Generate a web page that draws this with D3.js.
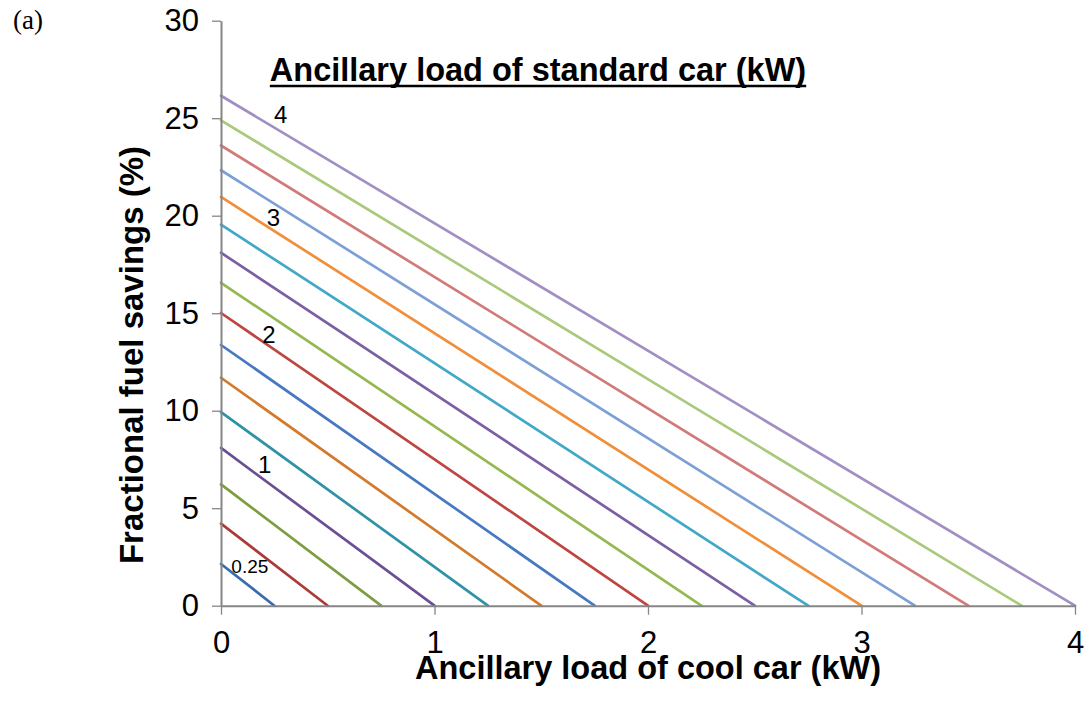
<!DOCTYPE html>
<html>
<head>
<meta charset="utf-8">
<script src="https://cdn.jsdelivr.net/npm/d3@7"></script>
<style>
  html, body { margin: 0; padding: 0; background: #fff; }
  svg { display: block; }
</style>
</head>
<body>
<svg id="chart" width="1087" height="708"></svg>
<script>
// Ancillary load of the standard car (kW), one line per value
const standardLoads = [0.25, 0.5, 0.75, 1, 1.25, 1.5, 1.75, 2, 2.25, 2.5, 2.75, 3, 3.25, 3.5, 3.75, 4];
// Fractional fuel savings (%) when the cool car's ancillary load is 0 kW
const zeroLoadSavings = [2.14, 4.21, 6.22, 8.09, 9.93, 11.69, 13.37, 15.01, 16.56, 18.1, 19.54, 20.96, 22.33, 23.6, 24.89, 26.15];
const lineColors = [
  "#3b6bab", "#aa3b37", "#7e9c40", "#6b4f95", "#2f92a6", "#d47a2d",
  "#4679c2", "#be4642", "#95b850", "#7b5ea3", "#41a9c7", "#f08e3b",
  "#7ca0d5", "#d27a77", "#a9c97c", "#a18fc3"
];
const xTicks = [0, 1, 2, 3, 4];
const yTicks = [0, 5, 10, 15, 20, 25, 30];
// In-plot labels naming the standard-car load of selected lines
const lineLabels = [
  { text: "4",    x: 0.28,  y: 25.2,  small: false },
  { text: "3",    x: 0.245, y: 19.93, small: false },
  { text: "2",    x: 0.225, y: 13.9,  small: false },
  { text: "1",    x: 0.205, y: 7.25,  small: false },
  { text: "0.25", x: 0.135, y: 2.03,  small: true }
];

const svg = d3.select("#chart");
const plotLeft = 221, plotRight = 1075, plotTop = 20.7, plotBottom = 605.7;

const x = d3.scaleLinear().domain([0, 4]).range([plotLeft, plotRight]);
const y = d3.scaleLinear().domain([0, 30]).range([plotBottom, plotTop]);

const axisColor = "#868686";
const sans = "'Liberation Sans', Arial, sans-serif";

// Series lines: from (0, savings at zero load) to (standard load, 0)
const series = standardLoads.map((s, i) => ({
  load: s,
  color: lineColors[i],
  pts: [[0, zeroLoadSavings[i]], [s, 0]]
}));
const line = d3.line().x(d => x(d[0])).y(d => y(d[1]));

svg.append("g")
  .selectAll("path")
  .data(series)
  .join("path")
  .attr("d", d => line(d.pts))
  .attr("fill", "none")
  .attr("stroke", d => d.color)
  .attr("stroke-width", 2.7)
  .attr("stroke-linecap", "round");

// Axes
const xAxis = svg.append("g")
  .attr("transform", `translate(0,${plotBottom})`)
  .call(d3.axisBottom(x).tickValues(xTicks).tickFormat(d3.format("d"))
    .tickSize(9).tickSizeOuter(0).tickPadding(16));
const yAxis = svg.append("g")
  .attr("transform", `translate(${plotLeft},0)`)
  .call(d3.axisLeft(y).tickValues(yTicks).tickFormat(d3.format("d"))
    .tickSize(9).tickSizeOuter(0).tickPadding(13));

[xAxis, yAxis].forEach(g => {
  g.attr("font-size", null).attr("font-family", null);
  g.select(".domain").attr("stroke", axisColor).attr("stroke-width", 2);
  g.selectAll(".tick line").attr("stroke", axisColor).attr("stroke-width", 1.3);
  g.selectAll(".tick text")
    .attr("fill", "#000")
    .style("font-family", sans)
    .style("font-size", "31px");
});

// Line labels
svg.append("g")
  .selectAll("text")
  .data(lineLabels)
  .join("text")
  .attr("x", d => x(d.x))
  .attr("y", d => y(d.y))
  .attr("dy", "0.36em")
  .attr("text-anchor", "middle")
  .attr("font-family", sans)
  .attr("font-size", d => d.small ? 19 : 24)
  .attr("fill", "#000")
  .text(d => d.text);

// Chart title (underlined)
const title = svg.append("text")
  .attr("x", 538)
  .attr("y", 81)
  .attr("text-anchor", "middle")
  .attr("font-family", sans)
  .attr("font-weight", "bold")
  .attr("font-size", 32.5)
  .attr("fill", "#000")
  .text("Ancillary load of standard car (kW)");
const tb = title.node().getBBox();
svg.append("line")
  .attr("x1", tb.x).attr("x2", tb.x + tb.width)
  .attr("y1", 86).attr("y2", 86)
  .attr("stroke", "#000").attr("stroke-width", 2.6);

// Axis titles
svg.append("text")
  .attr("x", 648)
  .attr("y", 679)
  .attr("text-anchor", "middle")
  .attr("font-family", sans)
  .attr("font-weight", "bold")
  .attr("font-size", 32.5)
  .attr("fill", "#000")
  .text("Ancillary load of cool car (kW)");

svg.append("text")
  .attr("transform", "translate(143,355) rotate(-90)")
  .attr("text-anchor", "middle")
  .attr("font-family", sans)
  .attr("font-weight", "bold")
  .attr("font-size", 33)
  .attr("fill", "#000")
  .text("Fractional fuel savings (%)");

// Panel tag
svg.append("text")
  .attr("x", 13)
  .attr("y", 29)
  .attr("font-family", "'Liberation Serif', 'Times New Roman', serif")
  .attr("font-size", 27)
  .attr("fill", "#000")
  .text("(a)");
</script>
</body>
</html>
